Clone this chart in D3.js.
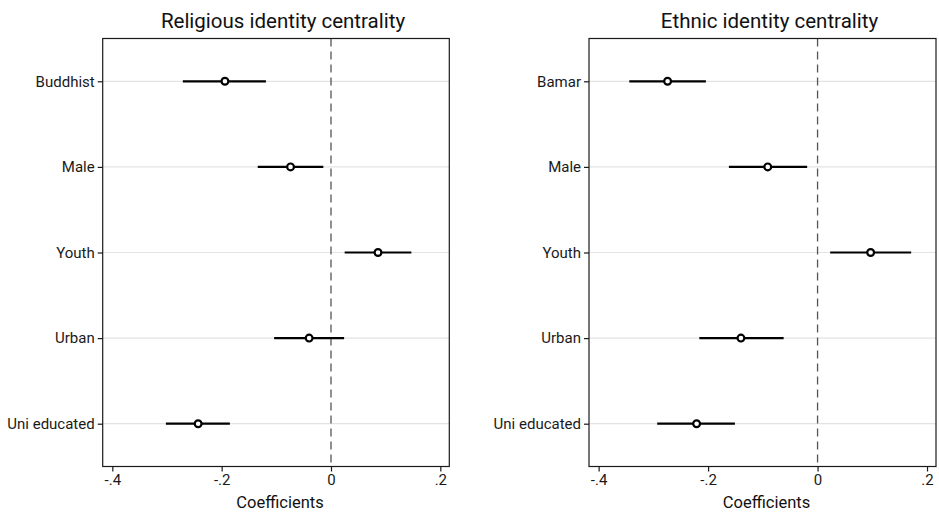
<!DOCTYPE html>
<html>
<head>
<meta charset="utf-8">
<script src="https://cdn.jsdelivr.net/npm/d3@7"></script>
<style>
  body { margin: 0; background: #fff; }
  svg { font-family: Roboto, "Liberation Sans", sans-serif; }
</style>
</head>
<body>
<svg id="chart" width="939" height="512"></svg>
<script>
// データ（図から読み取った推定値）
const relLabels = ["Buddhist", "Male", "Youth", "Urban", "Uni educated"];
const relCoef = [-0.194, -0.074, 0.086, -0.040, -0.243];
const relLow = [-0.271, -0.134, 0.025, -0.104, -0.302];
const relHigh = [-0.119, -0.014, 0.147, 0.024, -0.185];

const ethLabels = ["Bamar", "Male", "Youth", "Urban", "Uni educated"];
const ethCoef = [-0.274, -0.091, 0.097, -0.140, -0.221];
const ethLow = [-0.344, -0.162, 0.023, -0.216, -0.293];
const ethHigh = [-0.204, -0.019, 0.171, -0.062, -0.151];

const xTicks = [-0.4, -0.2, 0, 0.2];
const xDomain = [-0.4176, 0.2164];

const svg = d3.select("#chart");

function fmt(v) {
  if (v === 0) return "0";
  return (v < 0 ? "-" : "") + String(Math.abs(v)).replace(/^0/, "");
}

function panel(title, labels, coef, low, high, left, right) {
  const top = 38.5, bottom = 466.5;
  const rows = labels.map((d, i) => ({ label: d, coef: coef[i], low: low[i], high: high[i] }));

  const x = d3.scaleLinear().domain(xDomain).range([left, right]);
  const y = d3.scalePoint().domain(labels).range([top, bottom]).padding(0.5);

  const g = svg.append("g");

  // グリッド線
  g.selectAll("line.grid")
    .data(labels)
    .enter()
    .append("line")
    .attr("x1", left).attr("x2", right)
    .attr("y1", (d) => y(d)).attr("y2", (d) => y(d))
    .attr("stroke", "#e3e3e3").attr("stroke-width", 1.2);

  // ゼロの破線
  g.append("line")
    .attr("x1", x(0)).attr("x2", x(0))
    .attr("y1", top).attr("y2", bottom)
    .attr("stroke", "#555").attr("stroke-width", 1.3)
    .attr("stroke-dasharray", "8,5");

  // 信頼区間
  g.selectAll("line.ci")
    .data(rows)
    .enter()
    .append("line")
    .attr("x1", (d) => x(d.low)).attr("x2", (d) => x(d.high))
    .attr("y1", (d) => y(d.label)).attr("y2", (d) => y(d.label))
    .attr("stroke", "#000").attr("stroke-width", 2.2);

  // 点
  g.selectAll("circle")
    .data(rows)
    .enter()
    .append("circle")
    .attr("cx", (d) => x(d.coef))
    .attr("cy", (d) => y(d.label))
    .attr("r", 3.4)
    .attr("fill", "#fff")
    .attr("stroke", "#000")
    .attr("stroke-width", 2.2);

  // 枠
  g.append("rect")
    .attr("x", left).attr("y", top)
    .attr("width", right - left).attr("height", bottom - top)
    .attr("fill", "none").attr("stroke", "#1a1a1a").attr("stroke-width", 1.2);

  // 軸
  const xAxis = g.append("g")
    .attr("transform", `translate(0,${bottom})`)
    .call(d3.axisBottom(x).tickValues(xTicks).tickFormat(fmt).tickSize(5).tickPadding(3));
  const yAxis = g.append("g")
    .attr("transform", `translate(${left},0)`)
    .call(d3.axisLeft(y).tickSize(5).tickPadding(3));
  [xAxis, yAxis].forEach((a) => {
    a.select(".domain").remove();
    a.selectAll(".tick line").attr("stroke", "#1a1a1a").attr("stroke-width", 1.2);
    a.selectAll("text").attr("fill", "#1a1a1a").style("font-size", "15px")
      .style("font-family", "Roboto, sans-serif");
  });

  // タイトル
  g.append("text")
    .attr("x", (left + right) / 2 + 7).attr("y", 28)
    .attr("text-anchor", "middle")
    .style("font-size", "20.5px")
    .attr("fill", "#111")
    .text(title);

  g.append("text")
    .attr("x", (left + right) / 2 + 4).attr("y", 508)
    .attr("text-anchor", "middle")
    .style("font-size", "16.5px")
    .attr("fill", "#111")
    .text("Coefficients");
}

panel("Religious identity centrality", relLabels, relCoef, relLow, relHigh, 102.7, 449.3);
panel("Ethnic identity centrality", ethLabels, ethCoef, ethLow, ethHigh, 589, 936);
</script>
</body>
</html>
